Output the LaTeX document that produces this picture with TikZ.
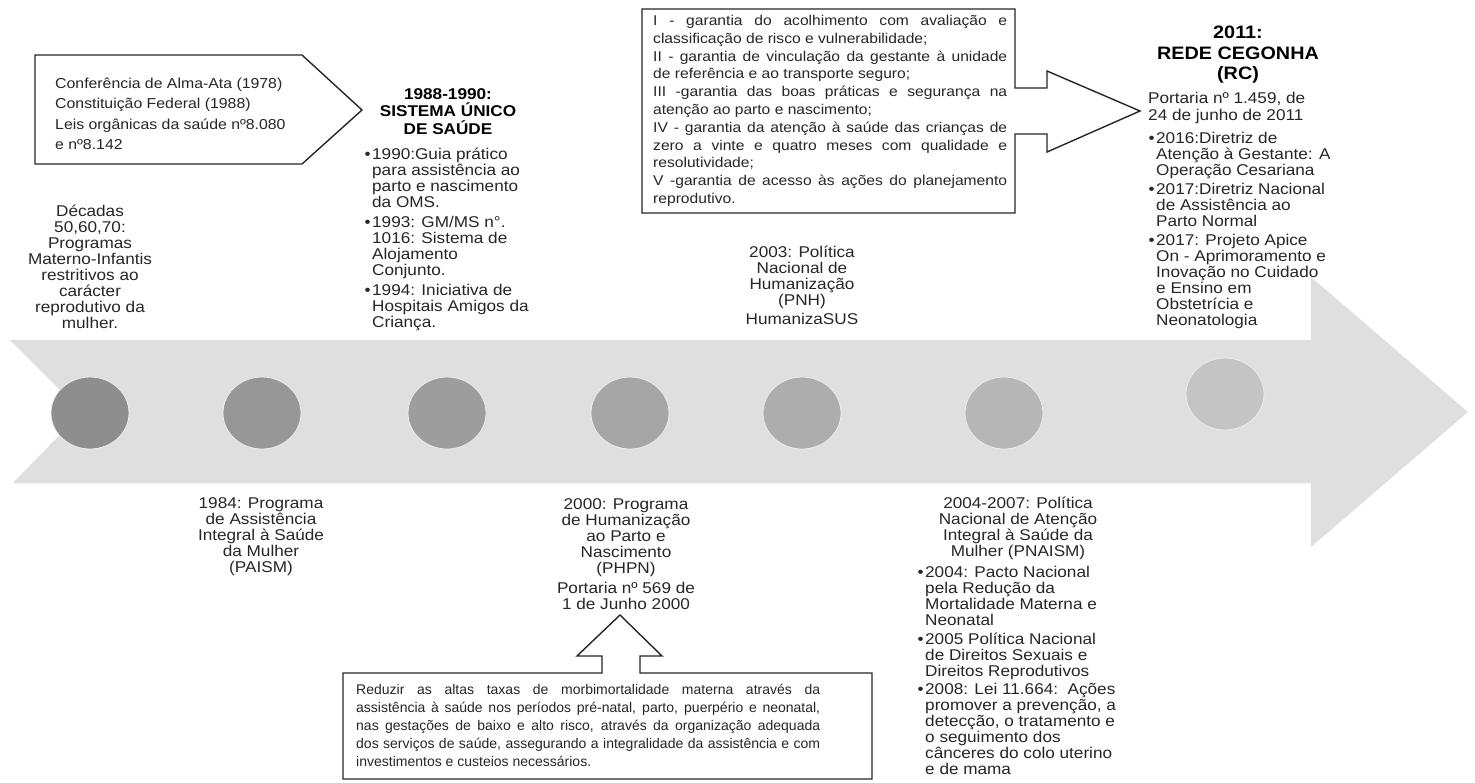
\documentclass[tikz,border=0pt]{standalone}
\usepackage{fontspec}
\setmainfont{Liberation Sans}[FakeStretch=1.1]
\newfontfamily\boxfont{Liberation Sans}
\usepackage{tikz}
\usetikzlibrary{positioning, shapes.geometric}
\definecolor{ink}{HTML}{262626}
\definecolor{tlBar}{HTML}{DFDFDF}
\definecolor{msA}{HTML}{8E8E8E}
\definecolor{msB}{HTML}{979797}
\definecolor{msC}{HTML}{9D9D9D}
\definecolor{msD}{HTML}{A6A6A6}
\definecolor{msE}{HTML}{ADADAD}
\definecolor{msF}{HTML}{B6B6B6}
\definecolor{msG}{HTML}{C4C4C4}
\newcommand{\tlfont}{\fontsize{15.6}{16}\selectfont\lineskiplimit=-100pt\relax}
\newcommand{\portfont}{\fontsize{15.6}{17}\selectfont\lineskiplimit=-100pt\relax}
\newcommand{\rcfont}{\fontsize{18}{20.5}\selectfont\lineskiplimit=-100pt\relax}
\newcommand{\cofont}{\fontsize{14.4}{20.3}\selectfont\lineskiplimit=-100pt\relax}
\newcommand{\topfont}{\fontsize{14.2}{17.8}\selectfont\lineskiplimit=-100pt\relax}
\newcommand{\botfont}{\boxfont\fontsize{14}{18}\selectfont\lineskiplimit=-100pt\relax}
\newcommand{\itm}{\llap{\textbullet\hspace{1.5pt}}}
\newcommand{\jtop}[1]{\makebox[354pt][s]{#1}}
\newcommand{\jbot}[1]{\makebox[464pt][s]{#1}}

\begin{document}
\begin{tikzpicture}[x=1pt,y=-1pt,
  lbl/.style={font=\tlfont, text=ink, inner sep=0pt, align=center, anchor=north},
  lst/.style={font=\tlfont, text=ink, inner sep=0pt, align=left, anchor=north west},
  ttl/.style={font=\tlfont\bfseries, text=black, inner sep=0pt, align=center, anchor=north},
  callout/.style={draw=ink, line width=1.4pt, fill=white, line join=miter},
  ms/.style={ellipse, minimum width=78pt, minimum height=72pt, inner sep=0pt, draw=white!93!black, line width=0.8pt}]
\fill[white] (0,0) rectangle (1475,782);
\useasboundingbox (0,0) rectangle (1475,782);
% timeline bar
\fill[tlBar] (10,340) -- (1311,340) -- (1311,277) -- (1468,412) -- (1311,547) -- (1311,483) -- (13,483) -- (82,412) -- cycle;
\foreach \cx/\cy/\col [count=\i] in {90/413/msA, 262/413/msB, 447/413/msC, 630/413/msD, 802/413/msE, 1004/413/msF, 1225/394/msG}
  \node[ms, fill=\col] (m\i) at (\cx,\cy) {};
% callouts
\draw[callout] (35,55) -- (302,55) -- (362,110) -- (302,164) -- (35,164) -- cycle;
\node[inner sep=0pt, font=\cofont, text=ink, align=left, anchor=north west] (alma) at (55,78) {Conferência de Alma-Ata (1978)\\Constituição Federal (1988)\\Leis orgânicas da saúde nº8.080\\e nº8.142};
\draw[callout] (642,9) -- (1015,9) -- (1015,88) -- (1047,88) -- (1047,71) -- (1140,111) -- (1047,152) -- (1047,134) -- (1015,134) -- (1015,213) -- (642,213) -- cycle;
\node[inner sep=0pt, font=\topfont, text=ink, align=left, anchor=north west] (garant) at (653,15) {\jtop{I - garantia do acolhimento com avaliação e}\\classificação de risco e vulnerabilidade;\\\jtop{II - garantia de vinculação da gestante à unidade}\\de referência e ao transporte seguro;\\\jtop{III -garantia das boas práticas e segurança na}\\atenção ao parto e nascimento;\\\jtop{IV - garantia da atenção à saúde das crianças de}\\\jtop{zero a vinte e quatro meses com qualidade e}\\resolutividade;\\\jtop{V -garantia de acesso às ações do planejamento}\\reprodutivo.};
\draw[callout] (343,673) -- (602,673) -- (602,656) -- (577,656) -- (620,615) -- (662,656) -- (640,656) -- (640,673) -- (872,673) -- (872,779) -- (343,779) -- cycle;
\node[inner sep=0pt, font=\botfont, text=ink, align=left, anchor=north west] (meta) at (356,684) {\jbot{Reduzir as altas taxas de morbimortalidade materna através da}\\\jbot{assistência à saúde nos períodos pré-natal, parto, puerpério e neonatal,}\\\jbot{nas gestações de baixo e alto risco, através da organização adequada}\\\jbot{dos serviços de saúde, assegurando a integralidade da assistência e com}\\investimentos e custeios necessários.};
% above the bar
\node[lbl] (decadas) at (90,205) {Décadas\\50,60,70:\\Programas\\Materno-Infantis\\restritivos ao\\carácter\\reprodutivo da\\mulher.};
\node[ttl] (susT) at (448,88) {1988-1990:\\[1.5pt]SISTEMA ÚNICO\\[1.5pt]DE SAÚDE};
\node[lst] (susL) at (372,148) {\itm1990:Guia prático\\para assistência ao\\parto e nascimento\\da OMS.\\[4pt]\itm1993: GM/MS n°.\\1016: Sistema de\\Alojamento\\Conjunto.\\[4pt]\itm1994: Iniciativa de\\Hospitais Amigos da\\Criança.};
\node[lbl] (pnh) at (802,246) {2003: Política\\Nacional de\\Humanização\\(PNH)\\[3pt]HumanizaSUS};
\node[ttl, font=\rcfont\bfseries] (rcT) at (1238,26) {2011:\\REDE CEGONHA\\(RC)};
\node[lst, font=\portfont] (rcPort) at (1148,92) {Portaria nº 1.459, de\\24 de junho de 2011};
\node[lst] (rcL) at (1156,132) {\itm2016:Diretriz de\\Atenção à Gestante: A\\Operação Cesariana\\[3pt]\itm2017:Diretriz Nacional\\de Assistência ao\\Parto Normal\\[3pt]\itm2017: Projeto Apice\\On - Aprimoramento e\\Inovação no Cuidado\\e Ensino em\\Obstetrícia e\\Neonatologia};
% below the bar
\node[lbl] (paism) at (261,497) {1984: Programa\\de Assistência\\Integral à Saúde\\da Mulher\\(PAISM)};
\node[lbl] (phpn) at (626,498) {2000: Programa\\de Humanização\\ao Parto e\\Nascimento\\(PHPN)\\[4pt]Portaria nº 569 de\\1 de Junho 2000};
\node[lbl] (pnaismT) at (1018,497) {2004-2007: Política\\Nacional de Atenção\\Integral à Saúde da\\Mulher (PNAISM)};
\node[lst] (pnaismL) at (925,566) {\itm2004: Pacto Nacional\\pela Redução da\\Mortalidade Materna e\\Neonatal\\[3pt]\itm2005 Política Nacional\\de Direitos Sexuais e\\Direitos Reprodutivos\\[2pt]\itm2008: Lei 11.664:\ \ Ações\\promover a prevenção, a\\detecção, o tratamento e\\o seguimento dos\\cânceres do colo uterino\\e de mama};
\end{tikzpicture}
\end{document}
